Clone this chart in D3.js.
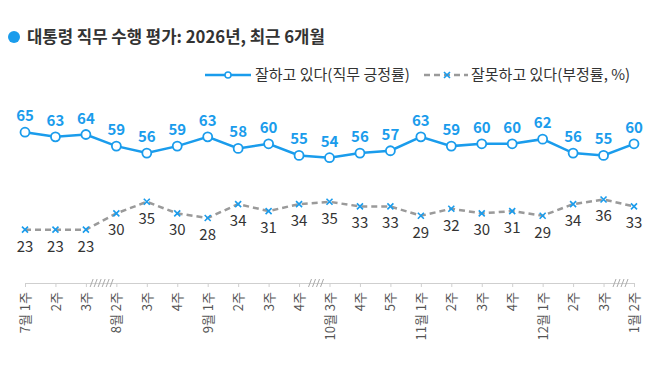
<!DOCTYPE html>
<html>
<head>
<meta charset="utf-8">
<script src="https://cdn.jsdelivr.net/npm/d3@7"></script>
<style>
  body { margin: 0; background: #fff; }
  svg text { font-family: "Noto Sans CJK KR", "Noto Sans", sans-serif; }
</style>
</head>
<body>
<script>
// weekly labels (month shown at first week of each month)
var weeks = ["7월 1주","2주","3주","8월 2주","3주","4주","9월 1주","2주","3주","4주",
             "10월 3주","4주","5주","11월 1주","2주","3주","4주","12월 1주","2주","3주","1월 2주"];
var approve = [65,63,64,59,56,59,63,58,60,55,54,56,57,63,59,60,60,62,56,55,60];
var disapprove = [23,23,23,30,35,30,28,34,31,34,35,33,33,29,32,30,31,29,34,36,33];
// gaps in the weekly series (after these indexes)
var breaks = [{after: 2, n: 6}, {after: 9, n: 4}, {after: 19, n: 4}];

var width = 670, height = 384;
var blue = "#1a9cec", grey = "#9a9a9a";

var svg = d3.select("body").append("svg")
  .attr("width", width).attr("height", height);

// title
svg.append("circle").attr("cx", 14).attr("cy", 37).attr("r", 6).attr("fill", blue);
svg.append("text").attr("x", 27).attr("y", 43)
  .attr("font-size", 16.7).attr("font-weight", "bold").attr("fill", "#333")
  .text("대통령 직무 수행 평가: 2026년, 최근 6개월");

var x = d3.scalePoint().domain(d3.range(weeks.length)).range([25, 634]);
var y = d3.scaleLinear().domain([0, 100]).range([283, 51]);

// axis
var axis = svg.append("g").attr("transform", "translate(0,283)")
  .call(d3.axisBottom(x).tickSize(4).tickSizeOuter(0).tickFormat(function(i) { return weeks[i]; }));
axis.select(".domain").attr("stroke", "#cfcfcf");
axis.selectAll(".tick line").attr("stroke", "#cfcfcf");
axis.selectAll(".tick text")
  .attr("transform", "rotate(-90)")
  .attr("text-anchor", "end")
  .attr("x", -9).attr("y", 0).attr("dy", "0.35em")
  .attr("font-size", 13).attr("fill", "#555")
  .style("font-family", "'Noto Sans CJK KR', sans-serif");

// break hatches
breaks.forEach(function(b) {
  var x0 = x(b.after), x1 = x(b.after + 1);
  var w = (b.n - 1) * 4;
  var start = b.n > 4 ? (x0 + x1) / 2 - w / 2 - 1 : x1 - w - 9;
  svg.append("g").selectAll("line").data(d3.range(b.n)).enter().append("line")
    .attr("x1", function(k) { return start + k * 4; })
    .attr("x2", function(k) { return start + k * 4 + 3; })
    .attr("y1", 287).attr("y2", 279)
    .attr("stroke", "#aaa").attr("stroke-width", 1);
});

var line = d3.line().x(function(d, i) { return x(i); }).y(function(d) { return y(d); });

// disapprove line
svg.append("path").datum(disapprove).attr("d", line)
  .attr("fill", "none").attr("stroke", grey).attr("stroke-width", 2.5)
  .attr("stroke-dasharray", "6,4");
svg.append("g").selectAll("path").data(disapprove).enter().append("path")
  .attr("transform", function(d, i) { return "translate(" + x(i) + "," + y(d) + ")"; })
  .attr("d", "M-3,-3L3,3M-3,3L3,-3")
  .attr("stroke", blue).attr("stroke-width", 1.6);
svg.append("g").selectAll("text").data(disapprove).enter().append("text")
  .attr("x", function(d, i) { return x(i); })
  .attr("y", function(d) { return y(d) + 22; })
  .attr("text-anchor", "middle").attr("font-size", 15).attr("fill", "#333")
  .text(function(d) { return d; });

// approve line
svg.append("path").datum(approve).attr("d", line)
  .attr("fill", "none").attr("stroke", blue).attr("stroke-width", 2.5);
svg.append("g").selectAll("circle").data(approve).enter().append("circle")
  .attr("cx", function(d, i) { return x(i); })
  .attr("cy", function(d) { return y(d); })
  .attr("r", 4.5).attr("fill", "#fff").attr("stroke", blue).attr("stroke-width", 1.8);
svg.append("g").selectAll("text").data(approve).enter().append("text")
  .attr("x", function(d, i) { return x(i); })
  .attr("y", function(d) { return y(d) - 11; })
  .attr("text-anchor", "middle").attr("font-size", 15).attr("font-weight", "bold").attr("fill", blue)
  .text(function(d) { return d; });

// legend
var lg = svg.append("g").attr("transform", "translate(0,75)");
lg.append("line").attr("x1", 205).attr("x2", 251).attr("stroke", blue).attr("stroke-width", 2.5);
lg.append("circle").attr("cx", 228).attr("r", 3).attr("fill", "#fff").attr("stroke", blue).attr("stroke-width", 1.5);
lg.append("text").attr("x", 255).attr("y", 5).attr("font-size", 15).attr("fill", "#333")
  .text("잘하고 있다(직무 긍정률)");
lg.append("line").attr("x1", 424).attr("x2", 468).attr("stroke", grey).attr("stroke-width", 2.5)
  .attr("stroke-dasharray", "6,4");
lg.append("path").attr("transform", "translate(447,0)").attr("d", "M-3,-3L3,3M-3,3L3,-3")
  .attr("stroke", blue).attr("stroke-width", 1.6);
lg.append("text").attr("x", 471).attr("y", 5).attr("font-size", 15).attr("fill", "#333")
  .text("잘못하고 있다(부정률, %)");
</script>
</body>
</html>
